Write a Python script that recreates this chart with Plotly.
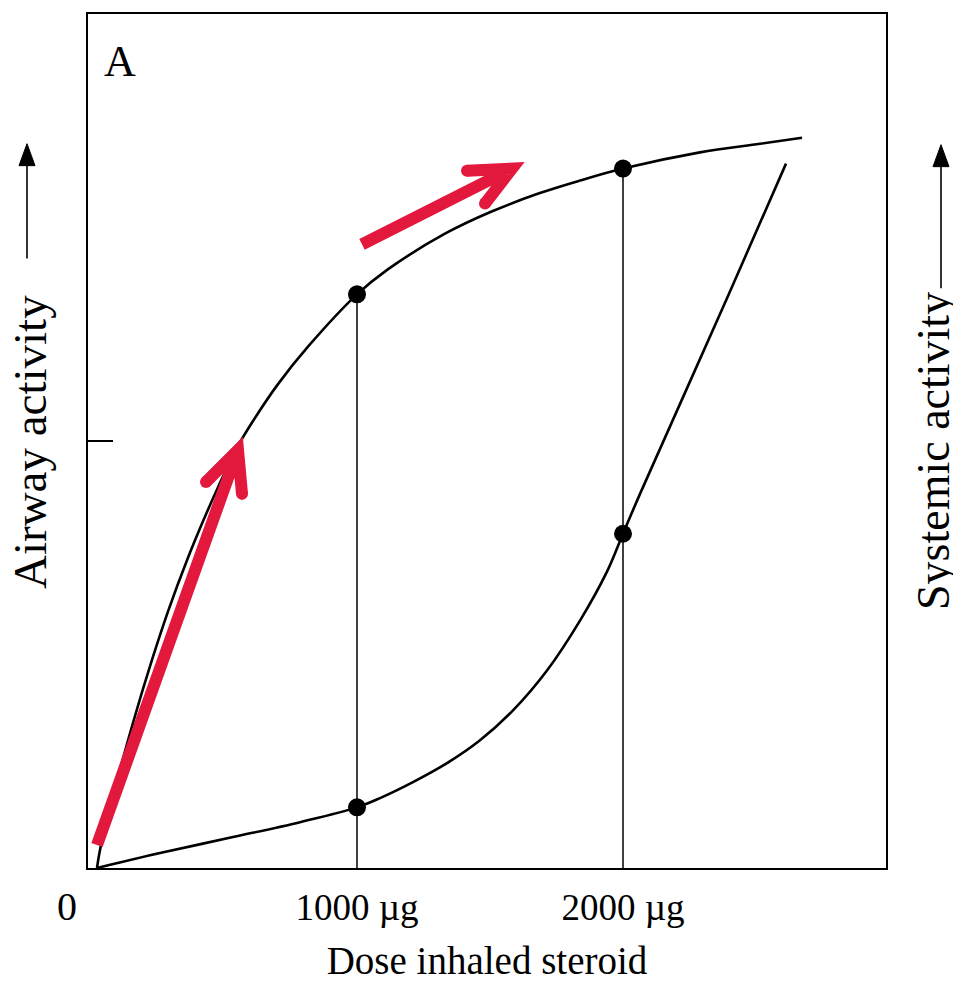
import plotly.graph_objects as go

# ---------------- data ----------------
airway_x = [22.6, 33.8, 78.9, 153.0, 228.6, 290.6, 360.2, 421.8, 479.7, 548.1, 609.0,
            703.0, 817.3, 1000, 1115.8, 1332.3, 1506, 1682, 1838, 2000, 2289, 2515, 2673]
airway_y = [0, 2.10, 7.94, 16.47, 24.30, 30.14, 35.98, 40.65, 44.74, 49.18, 52.34,
            56.66, 61.10, 67.17, 70.09, 74.30, 76.87, 78.97, 80.49, 81.9, 83.8, 84.8, 85.5]

systemic_x = [22.6, 259.4, 533.8, 785.7, 1000, 1086.5, 1210.5, 1338.3, 1462.4, 1586.5,
              1714.3, 1838.3, 1939.8, 2000, 2063.9, 2391, 2612.8]
systemic_y = [0, 1.75, 3.62, 5.37, 7.1, 8.18, 10.05, 12.27, 14.95, 18.46,
              23.13, 28.97, 34.70, 39.14, 43.81, 66.71, 82.48]

dose_marks = [1000, 2000]
airway_at_marks = [67.17, 81.9]
systemic_at_marks = [7.1, 39.14]

tick_vals = [1000, 2000]
tick_text = ["1000 µg", "2000 µg"]
y_tick_vals = [50]

# ---------------- geometry ----------------
OFF = 8                      # default body margin of the html page
W, H = 961 - OFF, 990 - 2 * OFF     # keep the page free of scrollbars
FRAME_L, FRAME_T, FRAME_R, FRAME_B = 88, 12, 886, 868   # frame in page pixels
L = FRAME_L - OFF
T = FRAME_T - OFF
R = W - (FRAME_R - OFF)
B = H - (FRAME_B - OFF)
PW, PH = W - L - R, H - T - B
FONT = "Liberation Serif"
RED = "#E2183C"


def pp(px, py):
    """page pixel -> paper coordinates"""
    return (px - FRAME_L) / PW, (FRAME_B - py) / PH


fig = go.Figure()

# drop lines
for xv, yv in zip(dose_marks, airway_at_marks):
    fig.add_trace(go.Scatter(x=[xv, xv], y=[0, yv], mode="lines",
                             line=dict(color="black", width=1.5),
                             hoverinfo="skip", showlegend=False))

fig.add_trace(go.Scatter(x=airway_x, y=airway_y, mode="lines",
                         line=dict(color="black", width=2.6, shape="spline", smoothing=1.0),
                         showlegend=False))
fig.add_trace(go.Scatter(x=systemic_x, y=systemic_y, mode="lines",
                         line=dict(color="black", width=2.6, shape="spline", smoothing=1.0),
                         showlegend=False))
fig.add_trace(go.Scatter(x=dose_marks + dose_marks, y=airway_at_marks + systemic_at_marks,
                         mode="markers", marker=dict(color="black", size=18),
                         showlegend=False))

shapes = []


def red_arrow(tail, tip, arm1, arm2, w=12):
    t = pp(*tail); p = pp(*tip); a1 = pp(*arm1); a2 = pp(*arm2)
    path = (f"M {t[0]},{t[1]} L {p[0]},{p[1]} "
            f"M {a1[0]},{a1[1]} L {p[0]},{p[1]} L {a2[0]},{a2[1]}")
    shapes.append(dict(type="path", xref="paper", yref="paper", path=path,
                       line=dict(color=RED, width=w), layer="above"))
    for c in (arm1, arm2):
        cx, cy = pp(*c)
        shapes.append(dict(type="circle", xref="paper", yref="paper",
                           xsizemode="pixel", ysizemode="pixel",
                           xanchor=cx, yanchor=cy, x0=-w / 2, x1=w / 2, y0=-w / 2, y1=w / 2,
                           fillcolor=RED, line=dict(width=0), layer="above"))


red_arrow((97, 845), (238, 449), (206, 481), (242, 493))
red_arrow((362, 243), (512, 167), (467, 169), (485, 202))


def black_arrow(x, y_bottom, y_tip, head_len=22, half=8):
    a = pp(x, y_bottom); b = pp(x, y_tip + head_len - 2)
    shapes.append(dict(type="line", xref="paper", yref="paper",
                       x0=a[0], y0=a[1], x1=b[0], y1=b[1],
                       line=dict(color="black", width=1.6)))
    t = pp(x, y_tip); l = pp(x - half, y_tip + head_len); r = pp(x + half, y_tip + head_len)
    shapes.append(dict(type="path", xref="paper", yref="paper",
                       path=f"M {t[0]},{t[1]} L {l[0]},{l[1]} L {r[0]},{r[1]} Z",
                       fillcolor="black", line=dict(color="black", width=1)))


black_arrow(27, 257, 142)
black_arrow(941, 287, 143)

annotations = []
ax, ay = pp(30, 441)
annotations.append(dict(text="Airway activity", x=ax, y=ay, xref="paper", yref="paper",
                        textangle=-90, showarrow=False, xanchor="center", yanchor="middle",
                        font=dict(family=FONT, size=47, color="black")))
sx, sy = pp(934, 450)
annotations.append(dict(text="Systemic activity", x=sx, y=sy, xref="paper", yref="paper",
                        textangle=-90, showarrow=False, xanchor="center", yanchor="middle",
                        font=dict(family=FONT, size=46, color="black")))
zx, zy = pp(67, 907)
annotations.append(dict(text="0", x=zx, y=zy, xref="paper", yref="paper",
                        showarrow=False, xanchor="center", yanchor="middle",
                        font=dict(family=FONT, size=40, color="black")))
lx, ly = pp(120, 60)
annotations.append(dict(text="A", x=lx, y=ly, xref="paper", yref="paper",
                        showarrow=False, xanchor="center", yanchor="middle",
                        font=dict(family=FONT, size=44, color="black")))

x_range = [(FRAME_L - 91) / 0.266, (FRAME_R - 91) / 0.266]

fig.update_layout(
    width=W, height=H, autosize=False,
    margin=dict(l=L, r=R, t=T, b=B, pad=0),
    paper_bgcolor="white", plot_bgcolor="white",
    shapes=shapes, annotations=annotations,
    xaxis=dict(range=x_range, showgrid=False, zeroline=False,
               showline=True, linecolor="black", linewidth=2, mirror=True,
               tickvals=tick_vals, ticktext=tick_text, ticks="",
               ticklabelstandoff=6,
               tickfont=dict(family=FONT, size=37, color="black"),
               title=dict(text="Dose inhaled steroid", standoff=22,
                          font=dict(family=FONT, size=39, color="black"))),
    yaxis=dict(range=[0, 100], showgrid=False, zeroline=False,
               showline=True, linecolor="black", linewidth=2, mirror=True,
               tickvals=y_tick_vals, ticks="inside", ticklen=25, tickwidth=1.5,
               tickcolor="black", showticklabels=False),
)

fig.write_html("out.html")
